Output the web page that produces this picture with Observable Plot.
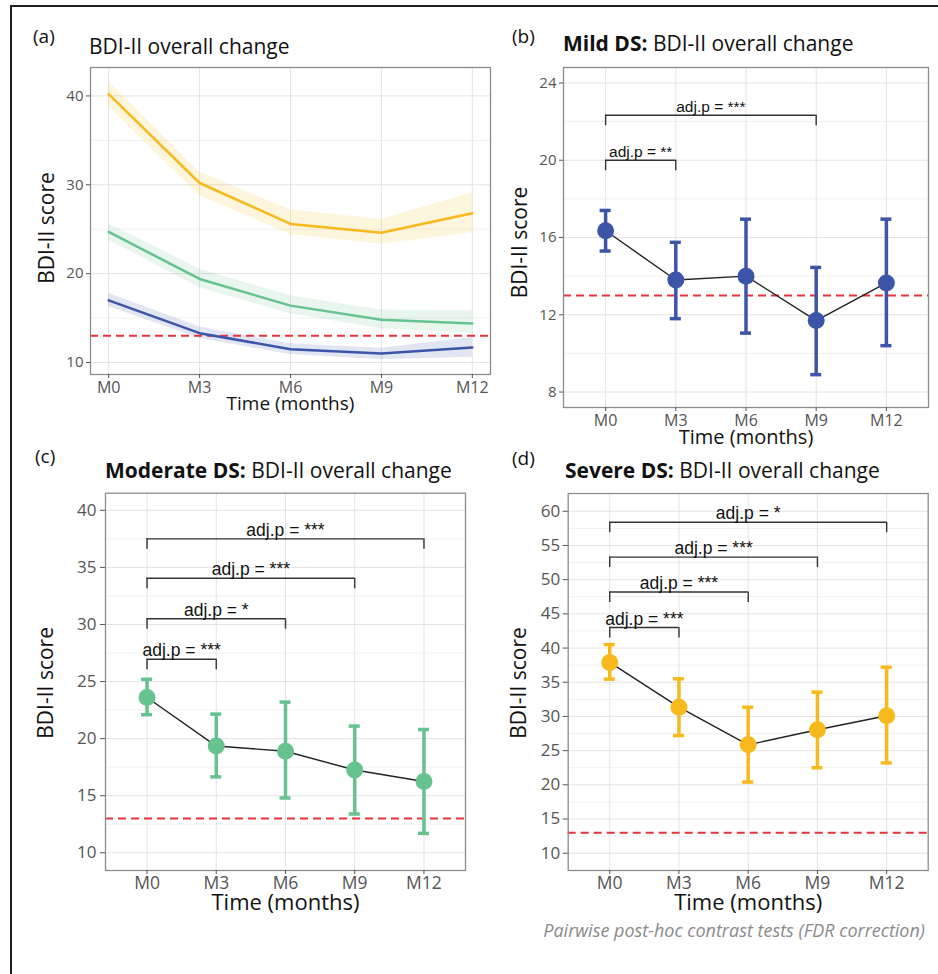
<!DOCTYPE html>
<html><head><meta charset="utf-8">
<script src="https://cdn.jsdelivr.net/npm/d3@7"></script>
<script src="https://cdn.jsdelivr.net/npm/@observablehq/plot@0.6"></script>
<style>
body{margin:0;background:#fff;font-family:"Open Sans",sans-serif;}
#page{position:relative;width:938px;height:974px;overflow:hidden;background:#fff;}
.abs{position:absolute;white-space:nowrap;line-height:1;color:#111;}
.frame{position:absolute;left:10px;top:5px;width:940px;height:980px;border-top:2px solid #1e1e1e;border-left:2px solid #1e1e1e;}
svg{position:absolute;overflow:visible;}
</style></head><body><div id="page"><div class="frame"></div></div>
<script>
// ---------- data ----------
const months = ["M0","M3","M6","M9","M12"];
const monthNum = [0, 3, 6, 9, 12];

// panel (a): estimated marginal means with ribbons
const groupNames = ["Mild DS", "Moderate DS", "Severe DS"];
const mildMean = [17.0, 13.3, 11.5, 11.0, 11.7];
const mildLo   = [16.3, 12.7, 10.9, 10.3, 10.6];
const mildHi   = [17.8, 14.0, 12.1, 11.6, 12.8];
const modMean  = [24.7, 19.4, 16.4, 14.8, 14.4];
const modLo    = [23.8, 18.4, 15.5, 13.8, 13.3];
const modHi    = [25.6, 20.5, 17.5, 15.9, 15.8];
const sevMean  = [40.2, 30.2, 25.6, 24.6, 26.8];
const sevLo    = [38.8, 28.8, 24.4, 23.3, 24.6];
const sevHi    = [41.6, 31.4, 27.2, 26.1, 29.1];

// panel (b): mild
const bMean = [16.35, 13.8, 14.0, 11.7, 13.65];
const bLo   = [15.3, 11.8, 11.05, 8.9, 10.4];
const bHi   = [17.4, 15.75, 16.95, 14.45, 16.95];
const bBracketTo = ["M9", "M3"];
const bBracketY = [22.33, 20.0];
const bBracketLabel = ["adj.p = ***", "adj.p = **"];

// panel (c): moderate
const cMean = [23.6, 19.35, 18.9, 17.25, 16.25];
const cLo   = [22.1, 16.65, 14.8, 13.4, 11.7];
const cHi   = [25.2, 22.15, 23.2, 21.1, 20.8];
const cBracketTo = ["M12", "M9", "M6", "M3"];
const cBracketY = [37.5, 34.05, 30.5, 26.95];
const cBracketLabel = ["adj.p = ***", "adj.p = ***", "adj.p = *", "adj.p = ***"];

// panel (d): severe
const dMean = [37.9, 31.35, 25.85, 28.05, 30.1];
const dLo   = [35.45, 27.2, 20.4, 22.5, 23.2];
const dHi   = [40.5, 35.5, 31.35, 33.55, 37.2];
const dBracketTo = ["M12", "M9", "M6", "M3"];
const dBracketY = [58.4, 53.3, 48.2, 43.0];
const dBracketLabel = ["adj.p = *", "adj.p = ***", "adj.p = ***", "adj.p = ***"];

const cutoff = [13];

// ---------- style ----------
const colMild = "#3d55a8", colMod = "#66c28f", colSev = "#f7b91c";
const red = "#e8333a";
const gridMajor = "#e4e4e4", gridMinor = "#f1f1f1";
const frameCol = "#8c8c8c";
const tickCol = "#555";
const FONT = "Open Sans";

const page = document.getElementById("page");
function place(el, left, top) { el.style.left = left + "px"; el.style.top = top + "px"; page.appendChild(el); }
function addText(html, left, baseline, fs, extra = "") {
  const d = document.createElement("div");
  d.className = "abs";
  d.innerHTML = html;
  d.style.fontSize = fs + "px";
  d.style.cssText += extra;
  place(d, left, baseline - 0.888 * fs);
  return d;
}

// ---------- panel (a) ----------
{
  const series = [[mildMean, mildLo, mildHi], [modMean, modLo, modHi], [sevMean, sevLo, sevHi]];
  const rows = series.flatMap(([m, lo, hi], g) => monthNum.map((t, i) => ({group: groupNames[g], t, mean: m[i], lo: lo[i], hi: hi[i]})));
  const yTicks = [10, 20, 30, 40], yMinor = [15, 25, 35];
  const p = Plot.plot({
    width: 500, height: 365, marginLeft: 90, marginRight: 10, marginTop: 7, marginBottom: 51,
    style: {fontFamily: FONT, background: "transparent", overflow: "visible"},
    x: {domain: [-0.6, 12.6]},
    y: {domain: [8.65, 43.2]},
    color: {domain: groupNames, range: [colMild, colMod, colSev]},
    marks: [
      Plot.gridY(yMinor, {stroke: gridMinor, strokeOpacity: 1}),
      Plot.gridY(yTicks, {stroke: gridMajor, strokeOpacity: 1}),
      Plot.gridX(monthNum, {stroke: gridMajor, strokeOpacity: 1}),
      Plot.areaY(rows, {x: "t", y1: "lo", y2: "hi", fill: "group", fillOpacity: 0.15, curve: "linear"}),
      Plot.ruleY(cutoff, {stroke: red, strokeWidth: 2, strokeDasharray: "8,5"}),
      Plot.line(rows, {x: "t", y: "mean", stroke: "group", strokeWidth: 2.5}),
      Plot.frame({stroke: frameCol, strokeWidth: 1.3}),
      Plot.axisX(monthNum, {tickFormat: d => "M" + d, tickSize: 4, tickPadding: 2.8, fontSize: 16, color: tickCol, label: null}),
      Plot.axisY(yTicks, {tickSize: 4, tickPadding: 3, fontSize: 15, color: tickCol, label: null}),
      Plot.text(["Time (months)"], {text: d => d, frameAnchor: "bottom", textAnchor: "middle", dy: 35, lineAnchor: "bottom", fontSize: 19, fill: "#111"}),
      Plot.text(["BDI-II score"], {text: d => d, frameAnchor: "left", textAnchor: "middle", rotate: -90, dx: -37, dy: 7, lineAnchor: "bottom", fontSize: 21, fill: "#111"})
    ]
  });
  place(p, 0, 60);
}

// ---------- panels (b)(c)(d) ----------
function panel(cfg) {
  const rows = months.map((m, i) => ({i, mean: cfg.mean[i], lo: cfg.lo[i], hi: cfg.hi[i]}));
  const i0 = months.indexOf("M0");
  const br = cfg.bTo.map((m, k) => ({to: months.indexOf(m), y: cfg.bY[k], label: cfg.bLabel[k]}));
  const tips = br.flatMap(b => [{x: i0, y: b.y}, {x: b.to, y: b.y}]);
  const idx = months.map((m, i) => i);
  return Plot.plot({
    width: cfg.width, height: cfg.height,
    marginLeft: cfg.mL, marginRight: cfg.mR, marginTop: cfg.mT, marginBottom: cfg.mB,
    style: {fontFamily: FONT, background: "transparent", overflow: "visible"},
    x: {domain: [-0.6, months.length - 1 + 0.6]},
    y: {domain: cfg.yDomain},
    marks: [
      Plot.gridY(cfg.yMinor, {stroke: gridMinor, strokeOpacity: 1}),
      Plot.gridY(cfg.yTicks, {stroke: gridMajor, strokeOpacity: 1}),
      Plot.gridX(idx, {stroke: gridMajor, strokeOpacity: 1}),
      Plot.ruleY(cutoff, {stroke: red, strokeWidth: 2, strokeDasharray: "8,5"}),
      Plot.ruleX(rows, {x: "i", y1: "lo", y2: "hi", stroke: cfg.color, strokeWidth: 3.5}),
      Plot.ruleY(rows, {y: "hi", x1: "i", x2: "i", insetLeft: -5.5, insetRight: -5.5, stroke: cfg.color, strokeWidth: 3.5}),
      Plot.ruleY(rows, {y: "lo", x1: "i", x2: "i", insetLeft: -5.5, insetRight: -5.5, stroke: cfg.color, strokeWidth: 3.5}),
      Plot.line(rows, {x: "i", y: "mean", stroke: "#222", strokeWidth: 1.4}),
      Plot.dot(rows, {x: "i", y: "mean", r: 8.5, fill: cfg.color, stroke: "none"}),
      Plot.ruleY(br, {y: "y", x1: () => i0, x2: "to", stroke: "#333", strokeWidth: 1.4}),
      Plot.ruleX(tips, {x: "x", y1: "y", y2: "y", insetBottom: -10.5, stroke: "#333", strokeWidth: 1.4}),
      Plot.text(br, {x: b => (i0 + b.to) / 2, y: "y", text: "label", dy: -3, lineAnchor: "bottom", fontFamily: "Liberation Sans", fontSize: cfg.brFont, fill: "#111"}),
      Plot.frame({stroke: frameCol, strokeWidth: 1.3}),
      Plot.axisX(idx, {tickFormat: i => months[i], tickSize: 4, tickPadding: cfg.xPad, fontSize: cfg.tickFont, color: tickCol, label: null}),
      Plot.axisY(cfg.yTicks, {tickSize: cfg.yTickSize, tickPadding: cfg.yPad, fontSize: cfg.yFont, color: tickCol, label: null}),
      Plot.text(["Time (months)"], {text: d => d, frameAnchor: "bottom", textAnchor: "middle", dy: cfg.xLabDy, lineAnchor: "bottom", fontSize: cfg.xLabFont, fill: "#111"}),
      Plot.text(["BDI-II score"], {text: d => d, frameAnchor: "left", textAnchor: "middle", rotate: -90, dx: cfg.yLabDx, dy: cfg.yLabDy, lineAnchor: "bottom", fontSize: 21, fill: "#111"})
    ]
  });
}

place(panel({
  mean: bMean, lo: bLo, hi: bHi, bTo: bBracketTo, bY: bBracketY, bLabel: bBracketLabel,
  color: colMild, yDomain: [7.2, 24.8], yTicks: [8, 12, 16, 20, 24], yMinor: [10, 14, 18, 22],
  width: 468, height: 400, mL: 93, mR: 10, mT: 7, mB: 53,
  brFont: 15.5, tickFont: 16, xPad: 2.8, yFont: 15, yTickSize: 4, yPad: 3, xLabDy: 36, xLabFont: 20, yLabDx: -37, yLabDy: 5
}), 470, 60);

place(panel({
  mean: cMean, lo: cLo, hi: cHi, bTo: cBracketTo, bY: cBracketY, bLabel: cBracketLabel,
  color: colMod, yDomain: [8.45, 41.5], yTicks: [10, 15, 20, 25, 30, 35, 40], yMinor: [12.5, 17.5, 22.5, 27.5, 32.5, 37.5],
  width: 480, height: 435, mL: 105, mR: 15, mT: 7.7, mB: 50,
  brFont: 17.5, tickFont: 17.5, xPad: 1.8, yFont: 17, yTickSize: 5, yPad: 4, xLabDy: 39, xLabFont: 22, yLabDx: -53, yLabDy: 1
}), 0, 485);

place(panel({
  mean: dMean, lo: dLo, hi: dHi, bTo: dBracketTo, bY: dBracketY, bLabel: dBracketLabel,
  color: colSev, yDomain: [7.47, 62.6], yTicks: [10, 15, 20, 25, 30, 35, 40, 45, 50, 55, 60], yMinor: [12.5, 17.5, 22.5, 27.5, 32.5, 37.5, 42.5, 47.5, 52.5, 57.5],
  width: 468, height: 435, mL: 97.7, mR: 10.3, mT: 8, mB: 50,
  brFont: 17.5, tickFont: 17.5, xPad: 1.8, yFont: 17, yTickSize: 5, yPad: 3, xLabDy: 39, xLabFont: 22, yLabDx: -42, yLabDy: 1
}), 470, 485);

// ---------- titles & caption ----------
addText("(a)", 33, 44, 19);
addText("BDI-II overall change", 89, 55, 21);
addText("(b)", 512, 44, 19);
addText("<b>Mild DS:</b> BDI-II overall change", 563, 52, 21);
addText("(c)", 35, 464, 19);
addText("<b>Moderate DS:</b> BDI-II overall change", 105, 478.3, 21);
addText("(d)", 512, 466, 19);
addText("<b>Severe DS:</b> BDI-II overall change", 565, 479, 21);
const cap = addText("Pairwise post-hoc contrast tests (FDR correction)", 0, 937, 18, "font-style:italic;color:#8a8a8a;");
cap.style.left = (925 - cap.getBoundingClientRect().width) + "px";
</script></body></html>
